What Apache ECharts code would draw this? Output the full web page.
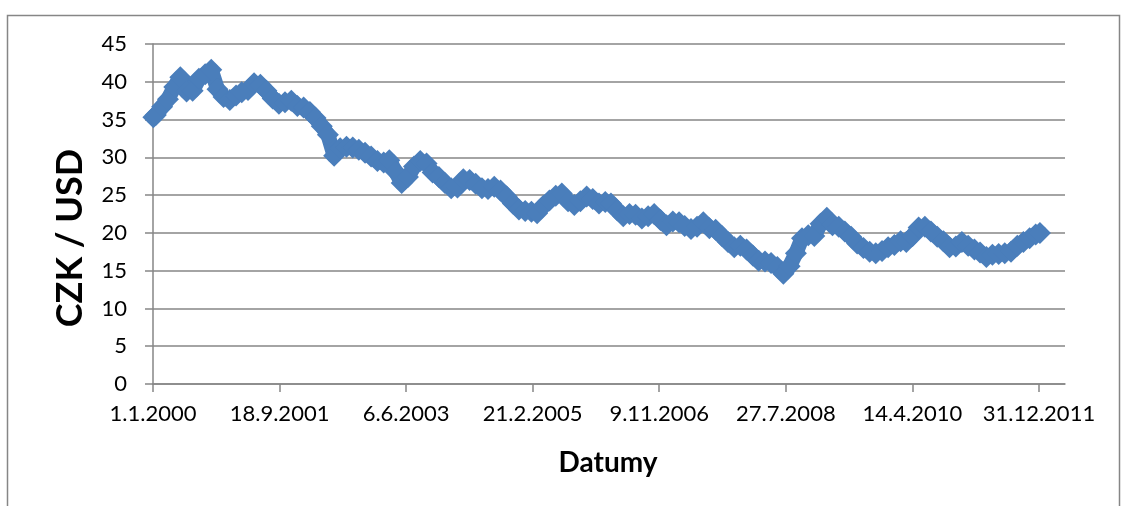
<!DOCTYPE html>
<html>
<head>
<meta charset="utf-8">
<script src="https://cdn.jsdelivr.net/npm/echarts@6/dist/echarts.min.js"></script>
<style>
html,body{margin:0;padding:0;background:#fff;}
#c{width:1128px;height:506px;}
</style>
</head>
<body>
<div id="c"></div>
<script>
// Dates and CZK/USD values
const dates = [
 '2000-01-03','2000-01-15','2000-02-15','2000-03-15','2000-04-15','2000-05-15','2000-06-15','2000-07-15','2000-08-15','2000-09-15','2000-10-15','2000-11-15','2000-12-15',
 '2001-01-15','2001-02-15','2001-03-15','2001-04-15','2001-05-15','2001-06-15','2001-07-15','2001-08-15','2001-09-15','2001-10-15','2001-11-15','2001-12-15',
 '2002-01-15','2002-02-15','2002-03-15','2002-04-15','2002-05-15','2002-06-15','2002-07-15','2002-08-15','2002-09-15','2002-10-15','2002-11-15','2002-12-15',
 '2003-01-15','2003-02-15','2003-03-15','2003-04-15','2003-05-15','2003-06-15','2003-07-15','2003-08-15','2003-09-15','2003-10-15','2003-11-15','2003-12-15',
 '2004-01-15','2004-02-15','2004-03-15','2004-04-15','2004-05-15','2004-06-15','2004-07-15','2004-08-15','2004-09-15','2004-10-15','2004-11-15','2004-12-15',
 '2005-01-15','2005-02-15','2005-03-15','2005-04-15','2005-05-15','2005-06-15','2005-07-15','2005-08-15','2005-09-15','2005-10-15','2005-11-15','2005-12-15',
 '2006-01-15','2006-02-15','2006-03-15','2006-04-15','2006-05-15','2006-06-15','2006-07-15','2006-08-15','2006-09-15','2006-10-15','2006-11-15','2006-12-15',
 '2007-01-15','2007-02-15','2007-03-15','2007-04-15','2007-05-15','2007-06-15','2007-07-15','2007-08-15','2007-09-15','2007-10-15','2007-11-15','2007-12-15',
 '2008-01-15','2008-02-15','2008-03-15','2008-04-15','2008-05-15','2008-06-15','2008-07-15','2008-08-15','2008-09-15','2008-10-15','2008-11-15','2008-12-15',
 '2009-01-15','2009-02-15','2009-03-15','2009-04-15','2009-05-15','2009-06-15','2009-07-15','2009-08-15','2009-09-15','2009-10-15','2009-11-15','2009-12-15',
 '2010-01-15','2010-02-15','2010-03-15','2010-04-15','2010-05-15','2010-06-15','2010-07-15','2010-08-15','2010-09-15','2010-10-15','2010-11-15','2010-12-15',
 '2011-01-15','2011-02-15','2011-03-15','2011-04-15','2011-05-15','2011-06-15','2011-07-15','2011-08-15','2011-09-15','2011-10-15','2011-11-15','2011-12-15',
 '2012-01-05'
];
const czkUsd = [
 35.3,35.6,36.7,37.7,39.3,40.6,38.7,38.8,40.4,41.0,41.6,39.0,38.0,
 37.6,38.2,38.6,38.9,39.8,39.6,38.8,37.8,37.1,37.3,37.5,36.8,
 36.6,36.0,35.2,34.1,33.0,30.2,31.2,31.4,31.3,31.0,30.6,30.1,
 29.5,29.3,29.6,28.1,26.6,27.4,28.8,29.5,29.2,28.0,27.4,26.6,
 25.9,26.0,27.1,27.0,26.5,25.9,25.8,26.1,25.6,24.8,23.9,23.1,
 22.9,22.8,22.6,23.6,24.3,24.9,25.2,24.2,23.7,24.2,24.8,24.5,
 23.9,24.1,23.9,23.0,22.2,22.5,22.4,21.9,22.2,22.5,21.7,21.0,
 21.5,21.4,20.9,20.5,20.8,21.4,20.6,20.4,19.6,18.8,18.1,18.3,
 17.8,17.0,16.3,16.2,16.0,15.5,14.6,15.6,17.3,19.3,19.7,19.6,
 21.2,22.0,21.0,20.8,20.2,19.5,18.6,18.0,17.5,17.3,17.6,18.1,
 18.4,18.9,18.8,19.6,20.7,20.8,20.2,19.5,18.9,18.1,18.2,18.8,
 18.3,17.8,17.4,16.8,17.1,17.2,17.3,17.5,18.3,18.8,19.3,19.8,
 20.0
];
const xTickLabels = ['1.1.2000','18.9.2001','6.6.2003','21.2.2005','9.11.2006','27.7.2008','14.4.2010','31.12.2011'];
const yTicks = [0,5,10,15,20,25,30,35,40,45];

const DAY = 86400000;
const base = Date.UTC(2000,0,1);
function isoToDay(s){const p=s.split('-').map(Number);return Math.round((Date.UTC(p[0],p[1]-1,p[2])-base)/DAY);}
function dmyToDay(s){const p=s.split('.').map(Number);return Math.round((Date.UTC(p[2],p[1]-1,p[0])-base)/DAY);}
function dayToDmy(v){const d=new Date(base+v*DAY);return d.getUTCDate()+'.'+(d.getUTCMonth()+1)+'.'+d.getUTCFullYear();}

const seriesData = dates.map((d,i)=>[isoToDay(d), czkUsd[i]]);
const tickDays = xTickLabels.map(dmyToDay);

const gray = '#868686';
const font = 'Lato, "Open Sans", sans-serif';
const chart = echarts.init(document.getElementById('c'), null, {renderer:'canvas'});
chart.setOption({
  animation:false,
  backgroundColor:'#fff',
  grid:{left:153, right:63, top:44, bottom:122, containLabel:false},
  xAxis:{
    type:'value', min:0, max:4511,
    axisLine:{show:true, lineStyle:{color:gray, width:1.5}},
    axisTick:{show:true, length:8, inside:false, customValues:tickDays, lineStyle:{color:gray, width:1.5}},
    axisLabel:{customValues:tickDays, formatter:v=>dayToDmy(v), color:'#000', fontSize:22, fontFamily:font, margin:19},
    splitLine:{show:false}
  },
  yAxis:{
    type:'value', min:yTicks[0], max:yTicks[yTicks.length-1], interval:5,
    axisLine:{show:true, lineStyle:{color:gray, width:1.5}},
    axisTick:{show:true, length:8, inside:false, lineStyle:{color:gray, width:1.5}},
    axisLabel:{color:'#000', fontSize:22, fontFamily:font, margin:26},
    splitLine:{show:true, lineStyle:{color:gray, width:1.5}}
  },
  series:[{
    type:'line', data:seriesData, symbol:'diamond', symbolSize:22, showAllSymbol:true,
    itemStyle:{color:'#4a7ebb', borderWidth:0},
    lineStyle:{color:'#4a7ebb', width:15, join:'round', cap:'round'},
    z:3
  }],
  graphic:[
    {type:'rect', shape:{x:7.5, y:15.5, width:1112, height:520}, style:{fill:'none', stroke:gray, lineWidth:1.5}, silent:true, z:-1},
    {type:'text', x:70, y:238, rotation:Math.PI/2, style:{text:'CZK / USD', font:'bold 36px '+font, fill:'#000', textAlign:'center', textVerticalAlign:'middle'}},
    {type:'text', x:608, y:463, style:{text:'Datumy', font:'bold 28px '+font, fill:'#000', textAlign:'center', textVerticalAlign:'middle'}}
  ]
});
</script>
</body>
</html>
